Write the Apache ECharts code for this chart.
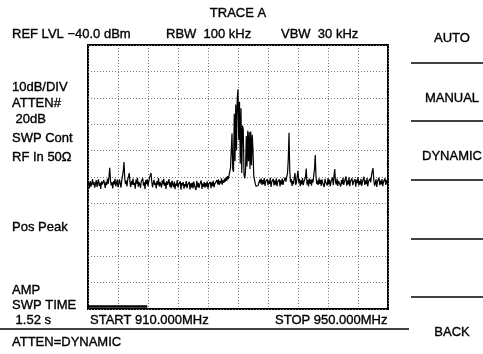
<!DOCTYPE html>
<html>
<head>
<meta charset="utf-8">
<script src="https://cdn.jsdelivr.net/npm/echarts@6/dist/echarts.min.js"></script>
<style>
  html, body { margin: 0; padding: 0; background: #fff; }
  #chart { width: 483px; height: 354px; }
</style>
</head>
<body>
<div id="chart"></div>
<script>
// sweep settings
const startFreq = 910;   // MHz
const stopFreq = 950;    // MHz
const freqStep = 0.1;    // MHz per trace point
const refLevel = -40;    // dBm, top of screen
const dbPerDiv = 10;

// trace A, dBm, one value per 0.1 MHz from 910 MHz
const traceLevels = [
  -93.0, -92.1, -94.2, -91.5, -93.6, -92.4, -90.8, -93.1, -91.9, -94.0,
  -92.6, -91.2, -93.8, -92.0, -90.9, -93.4, -92.2, -94.5, -91.7, -92.9,
  -93.3, -91.1, -92.7, -94.1, -91.8, -93.0, -90.6, -92.5, -89.8, -86.5,
  -91.4, -93.2, -92.0, -94.3, -91.6, -92.8, -90.7, -93.5, -92.3, -91.0,
  -93.9, -92.4, -90.9, -92.6, -94.0, -91.3, -89.6, -87.8, -84.3, -90.5,
  -92.7, -91.4, -93.6, -90.8, -89.9, -88.5, -92.1, -93.8, -91.5, -92.9,
  -90.6, -93.1, -92.2, -94.4, -91.0, -92.5, -90.3, -93.7, -91.9, -92.8,
  -94.1, -91.6, -92.3, -90.5, -93.3, -92.0, -94.6, -91.2, -92.7, -90.9,
  -93.5, -91.8, -90.2, -89.4, -88.5, -91.7, -93.9, -92.4, -91.1, -93.0,
  -92.2, -94.3, -91.5, -92.9, -90.4, -93.6, -91.9, -92.6, -94.0, -91.3,
  -92.8, -90.7, -93.4, -92.1, -94.5, -91.6, -93.0, -92.3, -90.8, -93.7,
  -92.0, -94.2, -91.4, -92.9, -93.8, -91.7, -94.6, -92.5, -93.3, -91.2,
  -94.0, -92.8, -93.5, -91.6, -94.8, -92.3, -93.1, -91.9, -94.4, -92.7,
  -93.6, -91.5, -94.2, -92.9, -93.0, -91.8, -94.7, -92.4, -93.9, -92.1,
  -94.3, -91.7, -93.2, -92.6, -94.9, -91.4, -93.8, -92.2, -94.1, -92.8,
  -93.4, -91.3, -94.5, -92.5, -93.7, -91.9, -94.0, -92.3, -93.6, -91.6,
  -94.4, -92.7, -93.1, -91.8, -94.2, -92.0, -93.5, -91.4, -93.9, -92.6,
  -91.9, -93.3, -91.2, -92.8, -90.9, -93.0, -91.6, -92.4, -90.5, -92.9,
  -91.3, -92.2, -90.6, -91.8, -90.1, -91.5, -89.7, -90.8, -89.5, -88.0,
  -86.5, -80.0, -73.5, -87.0, -88.0, -66.0, -84.0, -62.5, -80.0, -60.0,
  -56.8, -76.0, -61.5, -85.0, -64.0, -88.5, -70.5, -72.0, -89.0, -90.5,
  -88.0, -74.5, -86.0, -72.5, -84.0, -73.0, -87.0, -72.8, -85.5, -74.0,
  -80.0, -89.5, -91.0, -92.5, -93.5, -94.2, -94.0, -93.2, -92.0, -91.0,
  -92.4, -90.6, -93.0, -91.2, -92.7, -90.4, -93.4, -91.7, -92.2, -90.8,
  -93.1, -91.5, -92.6, -90.3, -93.8, -91.9, -92.4, -90.7, -93.2, -91.4,
  -92.9, -90.5, -93.5, -91.8, -92.1, -90.9, -93.6, -91.3, -92.8, -90.6,
  -93.0, -91.6, -92.3, -90.2, -91.8, -89.9, -88.6, -83.5, -73.2, -87.5,
  -92.0, -90.8, -93.4, -91.5, -92.7, -90.1, -88.5, -93.0, -91.9, -92.6,
  -87.6, -92.2, -90.7, -93.5, -91.3, -92.8, -90.4, -93.1, -91.7, -92.4,
  -90.0, -86.8, -92.9, -91.2, -93.6, -90.6, -92.5, -91.0, -93.3, -90.8,
  -92.1, -89.4, -87.0, -81.7, -89.8, -92.7, -91.4, -93.0, -90.5, -92.6,
  -91.1, -93.4, -90.9, -92.3, -91.6, -93.8, -90.7, -92.0, -91.3, -93.2,
  -90.4, -92.8, -91.0, -93.5, -91.8, -92.5, -90.2, -93.1, -89.5, -87.0,
  -91.9, -92.9, -90.6, -93.4, -91.5, -92.2, -90.9, -93.6, -91.2, -92.7,
  -90.3, -93.0, -91.7, -92.4, -89.8, -93.3, -91.4, -92.8, -90.1, -93.5,
  -91.6, -92.2, -90.5, -93.1, -91.9, -92.6, -90.8, -93.7, -91.1, -92.3,
  -90.0, -93.2, -91.5, -92.9, -90.7, -93.4, -91.8, -92.1, -89.9, -93.0,
  -91.3, -92.7, -90.4, -93.6, -91.7, -92.4, -90.6, -92.0, -89.2, -88.8,
  -86.6, -91.0, -93.3, -92.5, -90.9, -93.8, -91.6, -92.2, -90.3, -93.1,
  -91.4, -92.8, -90.8, -93.5, -91.9, -92.6, -90.5, -93.0, -91.2, -92.4,
  -91.0
];

// sweep progress bar at the bottom of the screen (MHz)
const sweepBar = [910, 917.9];

const headerLabels = ["TRACE A", "REF LVL \u221240.0 dBm", "RBW  100 kHz", "VBW  30 kHz"];
const leftLabels = ["10dB/DIV", "ATTEN#", " 20dB", "SWP Cont", "RF In 50\u03A9", "Pos Peak", "AMP", "SWP TIME", " 1.52 s"];
const footerLabels = ["START 910.000MHz", "STOP 950.000MHz", "ATTEN=DYNAMIC"];
const menuLabels = ["AUTO", "MANUAL", "DYNAMIC", "", "", "BACK"];

const traceData = traceLevels.map((v, i) => [+(startFreq + i * freqStep).toFixed(1), v]);

const font = '"Liberation Sans", Arial, sans-serif';
function txt(text, x, y, align) {
  return {
    type: "text",
    x: x,
    y: y,
    silent: true,
    style: {
      text: text,
      fill: "#000",
      stroke: "#000",
      lineWidth: 0.35,
      font: "13px " + font,
      textAlign: align || "left",
      textVerticalAlign: "middle"
    }
  };
}
function hline(x1, x2, y, w) {
  return {
    type: "line",
    silent: true,
    shape: { x1: x1, y1: y, x2: x2, y2: y },
    style: { stroke: "#000", lineWidth: w || 1.3 }
  };
}

const graphics = [];
// header
graphics.push(txt(headerLabels[0], 238, 13, "center"));
graphics.push(txt(headerLabels[1], 12, 34));
graphics.push(txt(headerLabels[2], 166, 34));
graphics.push(txt(headerLabels[3], 281, 34));
// left column
const leftY = [87, 103, 119, 138, 157, 227, 290, 305, 320];
leftLabels.forEach((t, i) => graphics.push(txt(t, 12, leftY[i])));
// footer
graphics.push(txt(footerLabels[0], 90, 320));
graphics.push(txt(footerLabels[1], 275, 320));
graphics.push(txt(footerLabels[2], 12, 342));
graphics.push(hline(0, 409, 329));
// soft-key menu
const menuY = [38, 98, 156, 0, 0, 332];
menuLabels.forEach((t, i) => { if (t) graphics.push(txt(t, 452, menuY[i], "center")); });
[63, 121, 180, 239, 297].forEach(y => graphics.push(hline(411, 483, y)));

const chart = echarts.init(document.getElementById("chart"), null, { renderer: "canvas" });
chart.setOption({
  backgroundColor: "#fff",
  animation: false,
  grid: {
    left: 88,
    top: 45,
    width: 300,
    height: 264,
    show: true,
    borderColor: "#000",
    borderWidth: 2,
    backgroundColor: "transparent"
  },
  xAxis: {
    type: "value",
    min: startFreq,
    max: stopFreq,
    interval: (stopFreq - startFreq) / 10,
    axisLine: { show: false },
    axisTick: { show: false },
    axisLabel: { show: false },
    splitLine: { lineStyle: { color: "#777", width: 1, type: [1, 2] } }
  },
  yAxis: {
    type: "value",
    min: refLevel - dbPerDiv * 10,
    max: refLevel,
    interval: dbPerDiv,
    axisLine: { show: false },
    axisTick: { show: false },
    axisLabel: { show: false },
    splitLine: { lineStyle: { color: "#777", width: 1, type: [1, 2] } }
  },
  series: [
    {
      type: "line",
      data: traceData,
      symbol: "none",
      lineStyle: { color: "#000", width: 1.2 },
      markLine: {
        silent: true,
        symbol: "none",
        label: { show: false },
        lineStyle: { color: "#000", width: 2.5, type: "solid" },
        data: [[{ coord: [sweepBar[0], -138.8] }, { coord: [sweepBar[1], -138.8] }]]
      }
    }
  ],
  graphic: graphics
});
</script>
</body>
</html>
